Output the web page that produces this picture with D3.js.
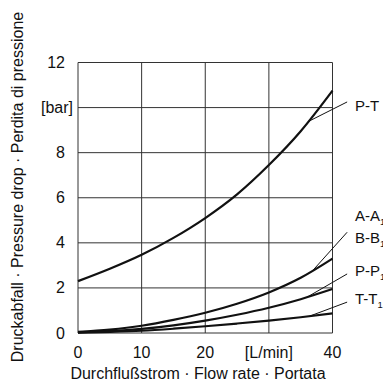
<!DOCTYPE html>
<html>
<head>
<meta charset="utf-8">
<script src="https://cdn.jsdelivr.net/npm/d3@7"></script>
<style>
  body { margin: 0; background: #fff; }
  text { font-family: "Liberation Sans", Arial, sans-serif; fill: #111; }
</style>
</head>
<body>
<div id="container"></div>
<script>
// flow rate [L/min] and pressure drop [bar] for each path
const flow = [0, 5, 10, 15, 20, 25, 30, 35, 40];
const pT = [2.3, 2.85, 3.47, 4.22, 5.1, 6.15, 7.45, 8.95, 10.75];
const aA = [0.05, 0.15, 0.32, 0.58, 0.9, 1.3, 1.8, 2.45, 3.3];
const pP = [0.03, 0.08, 0.18, 0.34, 0.55, 0.81, 1.12, 1.5, 1.95];
const tT = [0.02, 0.05, 0.1, 0.19, 0.3, 0.42, 0.55, 0.7, 0.87];

const xTicks = [0, 10, 20, 30, 40];
const xTickLabels = ["0", "10", "20", "[L/min]", "40"];
const yTicks = [0, 2, 4, 6, 8, 10, 12];
const yTickLabels = ["0", "2", "4", "6", "8", "[bar]", "12"];

// leader lines: which curve, start flow on the curve, end value
const leaders = [
  { series: pT, from: 36.2, to: 10.25 },
  { series: aA, from: 36.9, to: 4.47 },
  { series: pP, from: 36.0, to: 2.62 },
  { series: tT, from: 36.4, to: 1.37 }
];

const width = 383, height = 385;

const svg = d3.select("#container").append("svg")
    .attr("width", width)
    .attr("height", height);

const x = d3.scaleLinear().domain([0, 40]).range([78, 332.5]);
const y = d3.scaleLinear().domain([0, 12]).range([333, 62.5]);

// grid
svg.append("g").selectAll("line").data(yTicks).join("line")
    .attr("x1", x(0)).attr("x2", x(40))
    .attr("y1", d => y(d)).attr("y2", d => y(d))
    .attr("stroke", "#333").attr("stroke-width", 1);

svg.append("g").selectAll("line").data(xTicks).join("line")
    .attr("x1", d => x(d)).attr("x2", d => x(d))
    .attr("y1", y(0)).attr("y2", y(12))
    .attr("stroke", "#333").attr("stroke-width", 1);

// tick labels
svg.append("g").selectAll("text").data(yTicks).join("text")
    .attr("x", (d, i) => yTickLabels[i] === "[bar]" ? 73 : 65)
    .attr("y", d => y(d) + 5.5)
    .attr("text-anchor", "end")
    .attr("font-size", 16)
    .text((d, i) => yTickLabels[i]);

svg.append("g").selectAll("text").data(xTicks).join("text")
    .attr("x", d => x(d))
    .attr("y", 358)
    .attr("text-anchor", "middle")
    .attr("font-size", 16)
    .text((d, i) => xTickLabels[i]);

// axis titles
svg.append("text")
    .attr("x", 198).attr("y", 379)
    .attr("text-anchor", "middle")
    .attr("font-size", 16)
    .text("Durchflußstrom · Flow rate · Portata");

svg.append("text")
    .attr("transform", "translate(23,187) rotate(-90)")
    .attr("text-anchor", "middle")
    .attr("font-size", 16)
    .text("Druckabfall · Pressure drop · Perdita di pressione");

// curves
const line = d3.line()
    .x((d, i) => x(flow[i]))
    .y(d => y(d))
    .curve(d3.curveMonotoneX);

[pT, aA, pP, tT].forEach(s => {
  svg.append("path")
      .datum(s)
      .attr("d", line)
      .attr("fill", "none")
      .attr("stroke", "#111")
      .attr("stroke-width", 2.2);
});

// leaders + labels
const interp = (s, f) => {
  const i = Math.min(Math.floor(f / 5), flow.length - 2);
  const t = (f - flow[i]) / 5;
  return s[i] + (s[i + 1] - s[i]) * t;
};

leaders.forEach(l => {
  svg.append("line")
      .attr("x1", x(l.from)).attr("y1", y(interp(l.series, l.from)))
      .attr("x2", x(42.3)).attr("y2", y(l.to))
      .attr("stroke", "#111").attr("stroke-width", 1);
});

const textRows = [
  { main: "P-T", sub: "", y: 111 },
  { main: "A-A", sub: "1", y: 221 },
  { main: "B-B", sub: "1", y: 243 },
  { main: "P-P", sub: "1", y: 276 },
  { main: "T-T", sub: "1", y: 304 }
];

textRows.forEach(r => {
  const t = svg.append("text")
      .attr("x", 355).attr("y", r.y)
      .attr("font-size", 15)
      .text(r.main);
  if (r.sub) {
    t.append("tspan")
        .attr("font-size", 9.5)
        .attr("dy", 4)
        .text(r.sub);
  }
});
</script>
</body>
</html>
